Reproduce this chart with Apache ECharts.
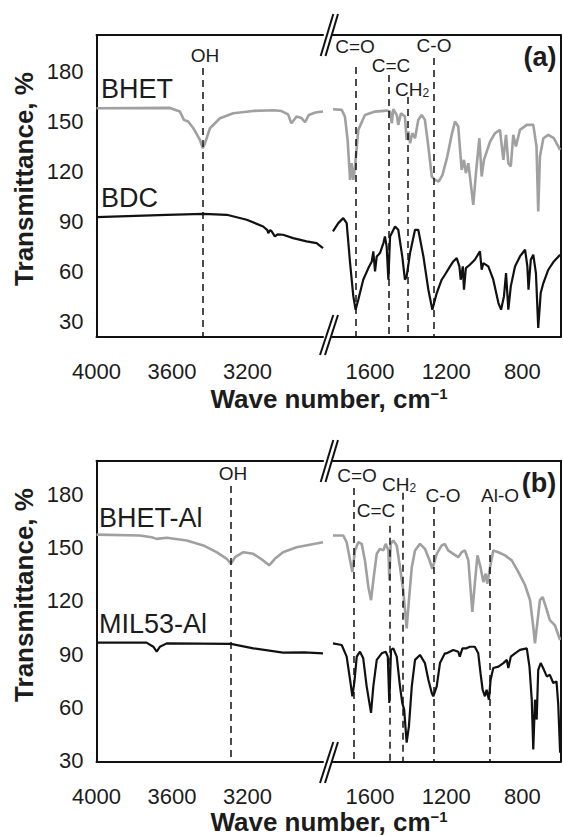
<!DOCTYPE html>
<html><head><meta charset="utf-8">
<script src="https://cdn.jsdelivr.net/npm/echarts@6/dist/echarts.min.js"></script>
<style>html,body{margin:0;padding:0;background:#fff}#c{width:563px;height:836px}</style>
</head><body><div id="c"></div>
<script>
// ---------- tick labels ----------
const xTicksLeft = [4000, 3600, 3200];
const xTicksRight = [1600, 1200, 800];
const yTicks = [30, 60, 90, 120, 150, 180];

// ---------- panel (a) series: [wavenumber cm-1, transmittance %] ----------
const bhetLeft = [[4000,158.2],[3800,158.3],[3611,158.4],[3558,156.2],[3537,151.2],[3514,150.2],[3487,146.2],[3452,139.2],[3437,134.2],[3425,137.2],[3399,146.2],[3346,152.2],[3275,155.2],[3170,156.6],[3060,157],[3020,156.5],[2985,154.5],[2968,149.2],[2958,150.5],[2940,153.2],[2915,152.4],[2895,149.8],[2875,154.2],[2840,155.6],[2800,156.2]];
const bhetRight = [[1795,157.6],[1749,157.2],[1732,153.2],[1718,139.2],[1705,115.2],[1697,125.2],[1688,115.2],[1679,123.2],[1662,145.2],[1627,154.2],[1574,156.2],[1513,156.8],[1495,156.2],[1486,149.2],[1478,157.6],[1460,154.2],[1452,148.2],[1438,155.2],[1417,153.2],[1408,139.2],[1399,144.2],[1390,137.2],[1378,143.2],[1364,140.2],[1347,151.2],[1329,154.2],[1312,151.2],[1294,135.2],[1276,117.2],[1259,115.2],[1240,114.2],[1220,118],[1195,129],[1170,143],[1154,150.2],[1137,147.2],[1119,121.2],[1107,127.2],[1097,119.2],[1084,125.2],[1058,100.2],[1044,119.2],[1026,140.2],[1014,117.2],[1002,127.2],[970,138.2],[944,143.2],[918,145.2],[900,127.2],[886,142.2],[874,125.2],[861,123.2],[848,142.2],[834,135.2],[813,145.2],[777,148.2],[743,148.2],[726,135.2],[717,96.2],[708,129.2],[690,140.2],[664,142.2],[635,140.2],[602,133.2]];
const bdcLeft = [[4000,92.8],[3628,94.2],[3434,94.8],[3310,94.2],[3204,91.2],[3117,87.2],[3095,85],[3090,83.2],[3080,85],[3072,84.2],[3055,81.2],[3040,82.5],[3012,82.2],[2958,80.2],[2887,78.2],[2834,77.2],[2800,74.2]];
const bdcRight = [[1795,84.2],[1767,89.2],[1741,92.2],[1723,89.2],[1705,65.2],[1688,45.2],[1676,37.2],[1662,43.2],[1636,55.2],[1609,62.2],[1591,66.2],[1583,72.2],[1574,60.2],[1565,69.2],[1548,71.2],[1530,77.2],[1522,81.2],[1513,75.2],[1504,55.2],[1495,81.2],[1469,87.2],[1452,85.2],[1431,69.2],[1417,55.2],[1408,57.2],[1390,71.2],[1364,85.2],[1347,85.2],[1320,69.2],[1294,49.2],[1273,37.2],[1250,47.2],[1224,55.2],[1207,58.2],[1180,63.2],[1163,66.2],[1145,68.2],[1131,63.2],[1124,55.2],[1113,63.2],[1107,49.2],[1097,62.2],[1076,64.2],[1050,67.2],[1023,72.2],[1014,61.2],[1005,65.2],[979,63.2],[953,55.2],[926,41.2],[912,37.2],[897,45.2],[886,59.2],[874,37.2],[861,51.2],[839,63.2],[813,69.2],[786,73.2],[774,63.2],[768,49.2],[756,67.2],[743,70.2],[729,59.2],[717,26.2],[704,47.2],[690,53.2],[664,61.2],[635,66.2],[602,70.2]];

// ---------- panel (b) series ----------
const bhetAlLeft = [[4000,157.3],[3770,156.8],[3708,155.8],[3681,154.9],[3628,155.5],[3522,154],[3434,151.2],[3364,147.4],[3310,143.7],[3288,140.9],[3266,144.6],[3222,147.4],[3169,146.5],[3117,142.8],[3085,140],[3055,143.7],[3012,147.4],[2940,150.2],[2800,153]];
const bhetAlRight = [[1795,156.8],[1741,156.8],[1723,153],[1705,142.8],[1693,136.2],[1679,148.4],[1662,153],[1644,152.1],[1627,142.8],[1609,127.8],[1595,120.4],[1583,131.6],[1565,146.5],[1548,149.3],[1530,148.4],[1518,152.1],[1504,148.4],[1499,131.6],[1492,152.1],[1478,154],[1460,151.2],[1443,139],[1426,126],[1408,104.5],[1396,120.4],[1381,139],[1364,148.4],[1338,152.1],[1312,149.3],[1291,143.7],[1273,138.1],[1250,146.5],[1224,151.2],[1207,152],[1190,148.4],[1163,146.5],[1137,144.6],[1119,147.4],[1102,148.4],[1084,142.8],[1063,113.8],[1050,129.7],[1036,145.6],[1020,139],[1005,130.6],[993,135.3],[984,129.7],[970,139],[953,148.4],[926,147.4],[891,145.6],[856,142.8],[821,136.2],[786,128.8],[760,120.4],[743,105.4],[734,96.1],[722,107.3],[708,120.4],[694,122.2],[677,116.6],[656,109.2],[630,106.4],[602,98]];
const milLeft = [[4000,96.5],[3735,96.5],[3699,94.2],[3681,91.4],[3664,94.2],[3628,96.1],[3288,95.8],[3169,93.3],[3012,90.9],[2900,91],[2800,90.5]];
const milRight = [[1795,96.1],[1749,95.2],[1723,88.6],[1705,75.6],[1693,66.3],[1682,74.7],[1670,88.6],[1653,91.4],[1636,87.7],[1618,71.9],[1595,57],[1583,71.9],[1565,86.8],[1539,90.5],[1518,91.4],[1507,88.6],[1499,62.6],[1490,92.4],[1478,93.3],[1460,88.6],[1443,71.9],[1431,62.6],[1421,58.8],[1408,40.2],[1396,49.5],[1381,71.9],[1364,86.8],[1338,89.6],[1312,85],[1294,75.6],[1276,68.2],[1268,66.3],[1250,71.9],[1233,85],[1207,90.5],[1198,90.5],[1163,92.4],[1137,91.4],[1129,88.6],[1115,93.3],[1094,93.3],[1076,94.2],[1050,94.2],[1032,90.5],[1020,79.3],[1009,70],[997,66.3],[988,70],[976,64.4],[967,75.6],[953,82.2],[926,83],[900,85],[882,86.8],[874,82.2],[861,88.6],[839,90.5],[813,92.4],[777,93.3],[763,83],[751,64.4],[743,36.4],[734,64.4],[725,53.2],[717,81.2],[704,85],[687,81.2],[672,77.5],[656,78.4],[638,73.8],[621,74.7],[612,62],[602,34.6]];

// ---------- band marker lines (wavenumber, top of dashed line in %) ----------
const bandsALeft = {wn:[3436], top:[182.4]};
const bandsARight = {wn:[1674,1504,1402,1268], top:[183,178.2,165,188.4]};
const bandsBLeft = {wn:[3288], top:[184.7]};
const bandsBRight = {wn:[1688,1499,1429,1268,974], top:[183.6,162.3,180.8,172.8,172.8]};

const chart = echarts.init(document.getElementById('c'), null, {renderer:'svg', width:563, height:836});
const FONT = '"Liberation Sans", Arial, Helvetica, sans-serif';
const BLACK = '#111';
const GRAY = '#a0a0a0';
const TXT = '#1c1c1c';

const grids = [
  {left:96.5, top:35, width:226.5, height:302},
  {left:332, top:35, width:228.5, height:302},
  {left:96.5, top:460.7, width:226.5, height:301},
  {left:332, top:460.7, width:228.5, height:301}
];
const yRange = [[20.8,202.2],[20.8,202.2],[29.5,198.9],[29.5,198.9]];
const xRange = [[2800,4000],[600,1800],[2800,4000],[600,1800]];
const xTicks = [xTicksLeft, xTicksRight, xTicksLeft, xTicksRight];
const xMargin = [23,23,24,24];
const axLine = {show:true, onZero:false, lineStyle:{color:BLACK, width:2}};
const plain = v => String(v);

const xAxis = [], yAxis = [];
for (let i = 0; i < 4; i++) {
  xAxis.push({gridIndex:i, type:'value', inverse:true, min:xRange[i][0], max:xRange[i][1], position:'bottom',
    axisLine:axLine, axisTick:{show:false}, splitLine:{show:false},
    axisLabel:{customValues:xTicks[i], formatter:plain, fontSize:22, fontFamily:FONT, color:TXT, margin:xMargin[i]}});
}
for (let i = 0; i < 4; i++) {
  xAxis.push({gridIndex:i, type:'value', inverse:true, min:xRange[i][0], max:xRange[i][1], position:'top',
    axisLine:axLine, axisTick:{show:false}, splitLine:{show:false}, axisLabel:{show:false}});
}
for (let i = 0; i < 4; i++) {
  const left = i % 2 === 0;
  yAxis.push({gridIndex:i, type:'value', min:yRange[i][0], max:yRange[i][1], position:left ? 'left' : 'right',
    axisLine:axLine, axisTick:{show:false}, splitLine:{show:false},
    axisLabel: left ? {customValues:yTicks, formatter:plain, fontSize:22, fontFamily:FONT, color:TXT, margin:13} : {show:false}});
}

function series(name, data, idx, color, width, bands) {
  const s = {name, type:'line', data, xAxisIndex:idx, yAxisIndex:idx, showSymbol:false, symbol:'none',
    lineStyle:{color, width}, silent:true, clip:false, z:2};
  if (bands) {
    s.markLine = {silent:true, symbol:['none','none'], label:{show:false}, animation:false,
      lineStyle:{color:BLACK, width:1.5, type:[7,5]}, emphasis:{disabled:true},
      data: bands.wn.map((w,k) => [{coord:[w, bands.top[k]]}, {coord:[w, yRange[idx][0]]}])};
  }
  return s;
}

const seriesList = [
  series('BHET', bhetLeft, 0, GRAY, 2.6, bandsALeft),
  series('BHET', bhetRight, 1, GRAY, 2.6, bandsARight),
  series('BDC', bdcLeft, 0, BLACK, 2.2),
  series('BDC', bdcRight, 1, BLACK, 2.2),
  series('BHET-Al', bhetAlLeft, 2, GRAY, 2.6, bandsBLeft),
  series('BHET-Al', bhetAlRight, 3, GRAY, 2.6, bandsBRight),
  series('MIL53-Al', milLeft, 2, BLACK, 2.2),
  series('MIL53-Al', milRight, 3, BLACK, 2.2)
];

function txt(text, x, y, size, opts) {
  opts = opts || {};
  return {type:'text', x, y, rotation:opts.rot || 0, silent:true, z:10,
    style:{text, fill:TXT, font:(opts.bold ? 'bold ' : '') + size + 'px ' + FONT,
      align:opts.align || 'center', verticalAlign:'middle',
      textAlign:opts.align || 'center', textVerticalAlign:'middle'}};
}
// text with a subscript (CH2): one text element, rich fragments
function subTxt(main, sub, x, y) {
  return {type:'text', x, y, silent:true, z:10,
    style:{text:'{m|' + main + '}{s|' + sub + '}', fill:TXT, fontFamily:FONT, fontSize:19,
      align:'left', verticalAlign:'middle', textAlign:'left', textVerticalAlign:'middle',
      rich:{m:{fontFamily:FONT, fontSize:19, lineHeight:19, padding:[0,0,5,0], verticalAlign:'top', fill:TXT},
            s:{fontFamily:FONT, fontSize:12, lineHeight:12, verticalAlign:'bottom', fill:TXT}}}};
}
// axis title with superscript (cm^-1)
function supTitle(x, y) {
  return {type:'text', x, y, silent:true, z:10,
    style:{text:'{m|Wave number, cm}{s|\u22121}', fill:TXT, fontFamily:FONT, fontSize:26, fontWeight:'bold',
      align:'center', verticalAlign:'middle', textAlign:'center', textVerticalAlign:'middle',
      rich:{m:{fontFamily:FONT, fontSize:26, fontWeight:'bold', lineHeight:26, verticalAlign:'bottom', fill:TXT},
            s:{fontFamily:FONT, fontSize:15, fontWeight:'bold', lineHeight:15, verticalAlign:'top', fill:TXT}}}};
}
function brk(x1, y1, x2, y2) {
  return {type:'line', silent:true, z:10, shape:{x1, y1, x2, y2}, style:{stroke:BLACK, lineWidth:2}};
}

const graphics = [
  // panel (a)
  txt('OH', 205, 55.5, 19), txt('C=O', 355, 46.5, 19), txt('C=C', 391, 65.5, 19),
  subTxt('CH', '2', 395, 89), txt('C-O', 434, 45.5, 19), txt('(a)', 540, 56.5, 27, {bold:true}),
  txt('BHET', 101, 88.5, 27, {align:'left'}), txt('BDC', 101, 197.5, 27, {align:'left'}),
  txt('Transmittance, %', 24, 179, 26, {bold:true, rot:Math.PI/2}),
  supTitle(329, 399),
  brk(320.7,56,333.3,14), brk(325.5,56,338,14), brk(320,355,333.3,315), brk(325,355,338,315),
  // panel (b)
  txt('OH', 233, 473.5, 19), txt('C=O', 357, 475, 19),
  subTxt('CH', '2', 382, 484),
  txt('C=C', 376, 510, 19), txt('C-O', 443, 495, 19), txt('Al-O', 500, 495, 19),
  txt('(b)', 539, 483, 27, {bold:true}),
  txt('BHET-Al', 99, 517.5, 27, {align:'left'}), txt('MIL53-Al', 99, 624, 27, {align:'left'}),
  txt('Transmittance, %', 24, 595, 26, {bold:true, rot:Math.PI/2}),
  supTitle(329, 822),
  brk(320.7,482,333.3,440), brk(325.5,482,338,440), brk(320,783,333.3,742), brk(325,783,338,742)
];

chart.setOption({
  animation:false,
  backgroundColor:'#fff',
  textStyle:{fontFamily:FONT},
  grid:grids, xAxis, yAxis, series:seriesList, graphic:graphics
});
</script></body></html>
